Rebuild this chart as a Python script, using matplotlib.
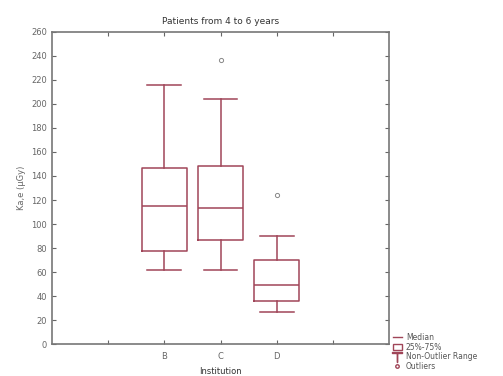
import numpy as np
import matplotlib as mpl
mpl.use('Agg')
import matplotlib.pyplot as plt
from matplotlib.lines import Line2D
from matplotlib.patches import Patch

# box statistics
groups = ['B', 'C', 'D']
q1 = [77.5, 87, 36]
med = [115, 113, 49]
q3 = [146.5, 148, 70]
whislo = [61.5, 61.5, 27]
whishi = [216, 204.5, 90]
outliers = [[], [237], [124]]
tick_labels = ['', 'B', 'C', 'D', '']

col = '#a04558'
grey = '#666666'

stats = []
for i in range(len(groups)):
    stats.append(dict(label=groups[i], q1=q1[i], med=med[i], q3=q3[i],
                      whislo=whislo[i], whishi=whishi[i], fliers=outliers[i]))

fig = plt.figure(figsize=(5.03, 3.76), dpi=100)
ax = fig.add_axes([0.1034, 0.0851, 0.67, 0.8298])

ax.bxp(stats, positions=[2, 3, 4], widths=0.8,
       boxprops=dict(color=col, lw=1.1),
       medianprops=dict(color=col, lw=1.1),
       whiskerprops=dict(color=col, lw=1.1),
       capprops=dict(color=col, lw=1.1),
       capwidths=0.6,
       flierprops=dict(marker='o', markersize=3, markerfacecolor='none',
                       markeredgecolor='#888888', markeredgewidth=0.7))

ax.set_xlim(0, 6)
ax.set_ylim(0, 260)
ax.set_xticks([1, 2, 3, 4, 5])
ax.set_xticklabels(tick_labels)
ax.set_yticks(np.arange(0, 261, 20))
ax.tick_params(direction='in', length=3, labelsize=6, colors=grey,
               top=True, right=True, width=0.8)
ax.tick_params(axis='x', pad=6)
for s in ax.spines.values():
    s.set_color('#777777')
    s.set_linewidth(1.2)

ax.set_title('Patients from 4 to 6 years', fontsize=6.5, color='#333333', pad=6)
ax.set_ylabel('Ka,e (µGy)', fontsize=6, color=grey, labelpad=4)
ax.set_xlabel('Institution', fontsize=6, color='#333333', labelpad=4)

handles = [
    Line2D([], [], color=col, lw=1),
    Patch(facecolor='white', edgecolor=col, lw=1),
    Line2D([], [], color=col, lw=0, marker='$\\top$', markersize=7),
    Line2D([], [], color=col, lw=0, marker='o', markersize=2.5,
           markerfacecolor='none'),
]
labels = ['Median', '25%-75%', 'Non-Outlier Range', 'Outliers']
fig.legend(handles, labels, loc='lower left', bbox_to_anchor=(0.775, 0.005),
           frameon=False, fontsize=5.5, labelcolor='#555555',
           handlelength=1.2, handletextpad=0.5, labelspacing=0.1,
           borderaxespad=0)

fig.savefig('out.png', dpi=100)
